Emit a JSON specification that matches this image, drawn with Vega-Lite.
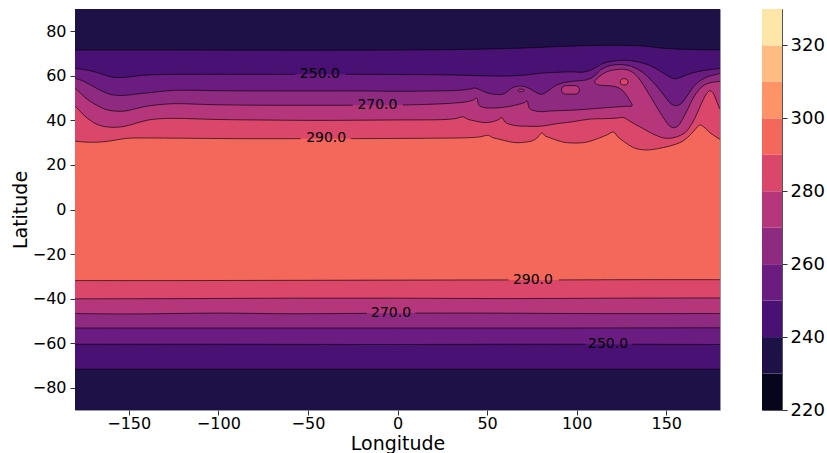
{
"$schema": "https://vega.github.io/schema/vega-lite/v6.json",
"padding": {"left": 10, "top": 8, "right": 4, "bottom": 0},
"config": {
 "font": "DejaVu Sans",
 "view": {"stroke": null},
 "axis": {"labelFont": "DejaVu Sans", "labelFontSize": 16, "labelColor": "#000", "titleFont": "DejaVu Sans", "titleFontSize": 19, "titleFontWeight": "normal", "titleColor": "#000", "tickColor": "#333", "tickSize": 5, "grid": false, "domain": false, "labelPadding": 4}
},
"datasets": {
 "base": [{"x": -180, "x2": 180, "y": -90, "y2": 90, "t": 290}],
 "bands": [
  {"t": 220, "y": 220, "y2": 230}, {"t": 230, "y": 230, "y2": 240}, {"t": 240, "y": 240, "y2": 250},
  {"t": 250, "y": 250, "y2": 260}, {"t": 260, "y": 260, "y2": 270}, {"t": 270, "y": 270, "y2": 280},
  {"t": 280, "y": 280, "y2": 290}, {"t": 290, "y": 290, "y2": 300}, {"t": 300, "y": 300, "y2": 310},
  {"t": 310, "y": 310, "y2": 320}, {"t": 320, "y": 320, "y2": 330}
 ],
 "islands": [
  {"x": 91.5, "x2": 101.5, "y": 51.8, "y2": 55.6, "t": 270},
  {"x": 124.3, "x2": 128.7, "y": 55.9, "y2": 58.7, "t": 280},
  {"x": 67.3, "x2": 70.5, "y": 52.9, "y2": 54.0, "t": 270}
 ],
 "labels": [
  {"x": -43.3, "y": 60.7, "text": "250.0"},
  {"x": -11.2, "y": 46.9, "text": "270.0"},
  {"x": -39.8, "y": 31.9, "text": "290.0"},
  {"x": 75.6, "y": -31.6, "text": "290.0"},
  {"x": -3.6, "y": -46.5, "text": "270.0"},
  {"x": 117.5, "y": -60.5, "text": "250.0"}
 ],
 "contours": [
  {"h":"N","t":230,"s":0,"x":-200,"y":95},{"h":"N","t":230,"s":0,"x":-200,"y":71.6},
  {"h":"N","t":230,"s":1,"x":-180,"y":71.6},{"h":"N","t":230,"s":1,"x":-120,"y":71.6},{"h":"N","t":230,"s":1,"x":-60,"y":71.5},{"h":"N","t":230,"s":1,"x":0,"y":71.6},{"h":"N","t":230,"s":1,"x":40,"y":71.9},{"h":"N","t":230,"s":1,"x":70,"y":72.5},{"h":"N","t":230,"s":1,"x":95,"y":73.3},{"h":"N","t":230,"s":1,"x":115,"y":73.7},{"h":"N","t":230,"s":1,"x":135,"y":73.5},{"h":"N","t":230,"s":1,"x":150,"y":72.3},{"h":"N","t":230,"s":1,"x":165,"y":71.8},{"h":"N","t":230,"s":1,"x":180,"y":71.7},
  {"h":"N","t":230,"s":0,"x":200,"y":71.7},{"h":"N","t":230,"s":0,"x":200,"y":95},

  {"h":"N","t":240,"s":0,"x":-200,"y":95},{"h":"N","t":240,"s":0,"x":-200,"y":63.4},
  {"h":"N","t":240,"s":1,"x":-180,"y":63.4},{"h":"N","t":240,"s":1,"x":-175,"y":62.8},{"h":"N","t":240,"s":1,"x":-169,"y":61.8},{"h":"N","t":240,"s":1,"x":-163,"y":60.2},{"h":"N","t":240,"s":1,"x":-157.7,"y":59.3},{"h":"N","t":240,"s":1,"x":-150,"y":59.5},{"h":"N","t":240,"s":1,"x":-143,"y":60.2},{"h":"N","t":240,"s":1,"x":-130,"y":60.6},{"h":"N","t":240,"s":1,"x":-110,"y":60.7},{"h":"N","t":240,"s":1,"x":-85,"y":60.7},{"h":"N","t":240,"s":1,"x":-57,"y":60.7},
  {"h":"N","t":240,"s":2,"x":-29,"y":60.7},{"h":"N","t":240,"s":2,"x":0,"y":60.6},{"h":"N","t":240,"s":2,"x":30,"y":60.4},{"h":"N","t":240,"s":2,"x":50,"y":60.0},{"h":"N","t":240,"s":2,"x":62,"y":59.9},{"h":"N","t":240,"s":2,"x":72,"y":60.4},{"h":"N","t":240,"s":2,"x":80,"y":61.2},{"h":"N","t":240,"s":2,"x":90,"y":61.6},{"h":"N","t":240,"s":2,"x":98,"y":61.8},{"h":"N","t":240,"s":2,"x":103,"y":61.6},{"h":"N","t":240,"s":2,"x":108,"y":62.6},{"h":"N","t":240,"s":2,"x":112,"y":64.4},{"h":"N","t":240,"s":2,"x":116,"y":65.9},{"h":"N","t":240,"s":2,"x":122,"y":66.8},{"h":"N","t":240,"s":2,"x":128,"y":67.0},{"h":"N","t":240,"s":2,"x":134,"y":66.3},{"h":"N","t":240,"s":2,"x":140,"y":64.9},{"h":"N","t":240,"s":2,"x":145,"y":62.9},{"h":"N","t":240,"s":2,"x":150,"y":60.4},{"h":"N","t":240,"s":2,"x":154,"y":58.8},{"h":"N","t":240,"s":2,"x":157,"y":59.0},{"h":"N","t":240,"s":2,"x":161,"y":60.3},{"h":"N","t":240,"s":2,"x":166,"y":61.6},{"h":"N","t":240,"s":2,"x":172,"y":62.5},{"h":"N","t":240,"s":2,"x":180,"y":63.3},
  {"h":"N","t":240,"s":0,"x":200,"y":63.3},{"h":"N","t":240,"s":0,"x":200,"y":95},

  {"h":"N","t":250,"s":0,"x":-200,"y":95},{"h":"N","t":250,"s":0,"x":-200,"y":58.9},
  {"h":"N","t":250,"s":1,"x":-180,"y":58.9},{"h":"N","t":250,"s":1,"x":-175,"y":57.5},{"h":"N","t":250,"s":1,"x":-170,"y":55.3},{"h":"N","t":250,"s":1,"x":-165,"y":53.2},{"h":"N","t":250,"s":1,"x":-160,"y":51.6},{"h":"N","t":250,"s":1,"x":-153,"y":51.2},{"h":"N","t":250,"s":1,"x":-146,"y":51.8},{"h":"N","t":250,"s":1,"x":-139,"y":52.4},{"h":"N","t":250,"s":1,"x":-124,"y":53.5},{"h":"N","t":250,"s":1,"x":-100,"y":53.3},{"h":"N","t":250,"s":1,"x":-60,"y":53.2},{"h":"N","t":250,"s":1,"x":-20,"y":53.2},{"h":"N","t":250,"s":1,"x":0,"y":53.1},{"h":"N","t":250,"s":1,"x":20,"y":53.2},{"h":"N","t":250,"s":1,"x":34,"y":53.5},{"h":"N","t":250,"s":1,"x":40,"y":54.0},{"h":"N","t":250,"s":1,"x":43.3,"y":54.5},{"h":"N","t":250,"s":1,"x":46.5,"y":53.6},{"h":"N","t":250,"s":1,"x":50,"y":52.4},{"h":"N","t":250,"s":1,"x":54.4,"y":51.7},{"h":"N","t":250,"s":1,"x":59,"y":51.8},{"h":"N","t":250,"s":1,"x":62,"y":53.4},{"h":"N","t":250,"s":1,"x":64.5,"y":54.8},{"h":"N","t":250,"s":1,"x":69.3,"y":55.4},{"h":"N","t":250,"s":1,"x":73,"y":54.6},{"h":"N","t":250,"s":1,"x":77,"y":52.7},{"h":"N","t":250,"s":1,"x":80.5,"y":51.7},{"h":"N","t":250,"s":1,"x":84.2,"y":53.3},{"h":"N","t":250,"s":1,"x":88,"y":55.5},{"h":"N","t":250,"s":1,"x":93,"y":57.0},{"h":"N","t":250,"s":1,"x":100,"y":57.7},{"h":"N","t":250,"s":1,"x":106,"y":58.3},{"h":"N","t":250,"s":1,"x":110,"y":60.0},{"h":"N","t":250,"s":1,"x":113,"y":62.5},{"h":"N","t":250,"s":1,"x":117,"y":64.2},{"h":"N","t":250,"s":1,"x":122,"y":65.0},{"h":"N","t":250,"s":1,"x":128,"y":64.8},{"h":"N","t":250,"s":1,"x":133,"y":63.4},{"h":"N","t":250,"s":1,"x":137,"y":61.5},{"h":"N","t":250,"s":1,"x":141,"y":58.5},{"h":"N","t":250,"s":1,"x":145,"y":55.0},{"h":"N","t":250,"s":1,"x":149,"y":51.0},{"h":"N","t":250,"s":1,"x":152,"y":47.9},{"h":"N","t":250,"s":1,"x":155,"y":46.6},{"h":"N","t":250,"s":1,"x":158,"y":47.3},{"h":"N","t":250,"s":1,"x":161,"y":50.2},{"h":"N","t":250,"s":1,"x":164,"y":53.8},{"h":"N","t":250,"s":1,"x":167,"y":56.6},{"h":"N","t":250,"s":1,"x":172,"y":59.2},{"h":"N","t":250,"s":1,"x":176,"y":60.3},{"h":"N","t":250,"s":1,"x":180,"y":61.0},
  {"h":"N","t":250,"s":0,"x":200,"y":61.0},{"h":"N","t":250,"s":0,"x":200,"y":95},

  {"h":"N","t":260,"s":0,"x":-200,"y":95},{"h":"N","t":260,"s":0,"x":-200,"y":54.4},
  {"h":"N","t":260,"s":1,"x":-180,"y":54.4},{"h":"N","t":260,"s":1,"x":-177,"y":52.3},{"h":"N","t":260,"s":1,"x":-174.4,"y":50.3},{"h":"N","t":260,"s":1,"x":-171,"y":48.3},{"h":"N","t":260,"s":1,"x":-168.8,"y":47.2},{"h":"N","t":260,"s":1,"x":-165,"y":45.6},{"h":"N","t":260,"s":1,"x":-161.4,"y":44.6},{"h":"N","t":260,"s":1,"x":-156,"y":44.1},{"h":"N","t":260,"s":1,"x":-152,"y":44.2},{"h":"N","t":260,"s":1,"x":-146,"y":45.3},{"h":"N","t":260,"s":1,"x":-139,"y":46.5},{"h":"N","t":260,"s":1,"x":-131,"y":47.2},{"h":"N","t":260,"s":1,"x":-124,"y":47.5},{"h":"N","t":260,"s":1,"x":-100,"y":47.0},{"h":"N","t":260,"s":1,"x":-70,"y":46.8},{"h":"N","t":260,"s":1,"x":-45,"y":46.8},{"h":"N","t":260,"s":1,"x":-25,"y":46.8},
  {"h":"N","t":260,"s":2,"x":3,"y":46.9},{"h":"N","t":260,"s":2,"x":17,"y":47.2},{"h":"N","t":260,"s":2,"x":30,"y":47.7},{"h":"N","t":260,"s":2,"x":38,"y":48.3},{"h":"N","t":260,"s":2,"x":42,"y":49.0},{"h":"N","t":260,"s":2,"x":44.2,"y":50.0},{"h":"N","t":260,"s":2,"x":45.4,"y":46.9},{"h":"N","t":260,"s":2,"x":48,"y":45.8},{"h":"N","t":260,"s":2,"x":55,"y":45.6},{"h":"N","t":260,"s":2,"x":62,"y":46.2},{"h":"N","t":260,"s":2,"x":68,"y":47.3},{"h":"N","t":260,"s":2,"x":71,"y":48.0},{"h":"N","t":260,"s":2,"x":72.3,"y":48.8},{"h":"N","t":260,"s":2,"x":73.6,"y":45.4},{"h":"N","t":260,"s":2,"x":76,"y":44.4},{"h":"N","t":260,"s":2,"x":80,"y":43.9},{"h":"N","t":260,"s":2,"x":85,"y":44.2},{"h":"N","t":260,"s":2,"x":91,"y":44.4},{"h":"N","t":260,"s":2,"x":100,"y":44.7},{"h":"N","t":260,"s":2,"x":110,"y":45.3},{"h":"N","t":260,"s":2,"x":120,"y":45.9},{"h":"N","t":260,"s":2,"x":127,"y":46.3},{"h":"N","t":260,"s":2,"x":131,"y":46.6},{"h":"N","t":260,"s":2,"x":129.6,"y":49.0},{"h":"N","t":260,"s":2,"x":127.2,"y":52.0},{"h":"N","t":260,"s":2,"x":124.6,"y":54.1},{"h":"N","t":260,"s":2,"x":121,"y":55.3},{"h":"N","t":260,"s":2,"x":117,"y":55.6},{"h":"N","t":260,"s":2,"x":113,"y":55.8},{"h":"N","t":260,"s":2,"x":110.6,"y":56.5},{"h":"N","t":260,"s":2,"x":110,"y":57.4},{"h":"N","t":260,"s":2,"x":111,"y":58.5},{"h":"N","t":260,"s":2,"x":113.5,"y":60.2},{"h":"N","t":260,"s":2,"x":117,"y":61.9},{"h":"N","t":260,"s":2,"x":122,"y":62.8},{"h":"N","t":260,"s":2,"x":127,"y":62.9},{"h":"N","t":260,"s":2,"x":131,"y":61.7},{"h":"N","t":260,"s":2,"x":134.5,"y":59.0},{"h":"N","t":260,"s":2,"x":137.5,"y":55.6},{"h":"N","t":260,"s":2,"x":140.5,"y":51.6},{"h":"N","t":260,"s":2,"x":143.5,"y":47.6},{"h":"N","t":260,"s":2,"x":146.5,"y":43.6},{"h":"N","t":260,"s":2,"x":149.5,"y":39.9},{"h":"N","t":260,"s":2,"x":152,"y":37.4},{"h":"N","t":260,"s":2,"x":154.2,"y":36.7},{"h":"N","t":260,"s":2,"x":156.5,"y":37.5},{"h":"N","t":260,"s":2,"x":159,"y":40.4},{"h":"N","t":260,"s":2,"x":162,"y":45.0},{"h":"N","t":260,"s":2,"x":165,"y":50.0},{"h":"N","t":260,"s":2,"x":168,"y":53.5},{"h":"N","t":260,"s":2,"x":171,"y":55.8},{"h":"N","t":260,"s":2,"x":175,"y":57.0},{"h":"N","t":260,"s":2,"x":180,"y":57.5},
  {"h":"N","t":260,"s":0,"x":200,"y":57.5},{"h":"N","t":260,"s":0,"x":200,"y":95},

  {"h":"N","t":270,"s":0,"x":-200,"y":95},{"h":"N","t":270,"s":0,"x":-200,"y":46.5},
  {"h":"N","t":270,"s":1,"x":-180,"y":46.5},{"h":"N","t":270,"s":1,"x":-177,"y":44.0},{"h":"N","t":270,"s":1,"x":-174.4,"y":41.8},{"h":"N","t":270,"s":1,"x":-171,"y":39.8},{"h":"N","t":270,"s":1,"x":-168.8,"y":38.6},{"h":"N","t":270,"s":1,"x":-165,"y":37.5},{"h":"N","t":270,"s":1,"x":-161.4,"y":37.0},{"h":"N","t":270,"s":1,"x":-157,"y":36.9},{"h":"N","t":270,"s":1,"x":-152,"y":37.4},{"h":"N","t":270,"s":1,"x":-146,"y":38.7},{"h":"N","t":270,"s":1,"x":-139,"y":40.2},{"h":"N","t":270,"s":1,"x":-131,"y":40.8},{"h":"N","t":270,"s":1,"x":-124,"y":40.9},{"h":"N","t":270,"s":1,"x":-100,"y":40.4},{"h":"N","t":270,"s":1,"x":-80,"y":40.2},{"h":"N","t":270,"s":1,"x":-45,"y":40.0},{"h":"N","t":270,"s":1,"x":-20,"y":40.1},{"h":"N","t":270,"s":1,"x":0,"y":40.2},{"h":"N","t":270,"s":1,"x":26.5,"y":40.4},{"h":"N","t":270,"s":1,"x":33,"y":40.9},{"h":"N","t":270,"s":1,"x":36.5,"y":41.6},{"h":"N","t":270,"s":1,"x":39,"y":40.6},{"h":"N","t":270,"s":1,"x":44,"y":39.6},{"h":"N","t":270,"s":1,"x":48.8,"y":39.0},{"h":"N","t":270,"s":1,"x":53,"y":39.4},{"h":"N","t":270,"s":1,"x":56.3,"y":40.3},{"h":"N","t":270,"s":1,"x":58.2,"y":41.2},{"h":"N","t":270,"s":1,"x":60,"y":39.3},{"h":"N","t":270,"s":1,"x":62,"y":38.4},{"h":"N","t":270,"s":1,"x":67.5,"y":37.5},{"h":"N","t":270,"s":1,"x":72,"y":37.4},{"h":"N","t":270,"s":1,"x":78,"y":37.3},{"h":"N","t":270,"s":1,"x":83,"y":37.7},{"h":"N","t":270,"s":1,"x":88,"y":38.4},{"h":"N","t":270,"s":1,"x":97,"y":39.3},{"h":"N","t":270,"s":1,"x":106.5,"y":40.5},{"h":"N","t":270,"s":1,"x":116,"y":40.8},{"h":"N","t":270,"s":1,"x":122,"y":41.0},{"h":"N","t":270,"s":1,"x":126,"y":41.3},{"h":"N","t":270,"s":1,"x":128.5,"y":40.3},{"h":"N","t":270,"s":1,"x":131,"y":39.0},{"h":"N","t":270,"s":1,"x":136.7,"y":36.5},{"h":"N","t":270,"s":1,"x":143.7,"y":33.5},{"h":"N","t":270,"s":1,"x":149.3,"y":32.0},{"h":"N","t":270,"s":1,"x":154.9,"y":32.4},{"h":"N","t":270,"s":1,"x":160.5,"y":34.5},{"h":"N","t":270,"s":1,"x":163.5,"y":37.5},{"h":"N","t":270,"s":1,"x":166.1,"y":41.2},{"h":"N","t":270,"s":1,"x":168.5,"y":45.5},{"h":"N","t":270,"s":1,"x":170.7,"y":49.4},{"h":"N","t":270,"s":1,"x":172.5,"y":52.0},{"h":"N","t":270,"s":1,"x":174.4,"y":53.3},{"h":"N","t":270,"s":1,"x":176,"y":52.5},{"h":"N","t":270,"s":1,"x":177.2,"y":50.5},{"h":"N","t":270,"s":1,"x":178.5,"y":47.8},{"h":"N","t":270,"s":1,"x":180,"y":45.0},
  {"h":"N","t":270,"s":0,"x":200,"y":45.0},{"h":"N","t":270,"s":0,"x":200,"y":95},

  {"h":"N","t":280,"s":0,"x":-200,"y":95},{"h":"N","t":280,"s":0,"x":-200,"y":30.7},
  {"h":"N","t":280,"s":1,"x":-180,"y":30.7},{"h":"N","t":280,"s":1,"x":-175,"y":30.3},{"h":"N","t":280,"s":1,"x":-168,"y":30.2},{"h":"N","t":280,"s":1,"x":-161,"y":30.7},{"h":"N","t":280,"s":1,"x":-155,"y":31.5},{"h":"N","t":280,"s":1,"x":-150,"y":32.0},{"h":"N","t":280,"s":1,"x":-140,"y":32.1},{"h":"N","t":280,"s":1,"x":-120,"y":32.0},{"h":"N","t":280,"s":1,"x":-90,"y":31.8},{"h":"N","t":280,"s":1,"x":-54,"y":31.8},
  {"h":"N","t":280,"s":2,"x":-26,"y":31.8},{"h":"N","t":280,"s":2,"x":0,"y":31.9},{"h":"N","t":280,"s":2,"x":20,"y":32.0},{"h":"N","t":280,"s":2,"x":38.6,"y":32.2},{"h":"N","t":280,"s":2,"x":46,"y":32.6},{"h":"N","t":280,"s":2,"x":50.7,"y":33.3},{"h":"N","t":280,"s":2,"x":53,"y":32.3},{"h":"N","t":280,"s":2,"x":57.2,"y":31.5},{"h":"N","t":280,"s":2,"x":62,"y":30.5},{"h":"N","t":280,"s":2,"x":66.5,"y":30.0},{"h":"N","t":280,"s":2,"x":71,"y":30.2},{"h":"N","t":280,"s":2,"x":75.8,"y":31.0},{"h":"N","t":280,"s":2,"x":78.5,"y":32.6},{"h":"N","t":280,"s":2,"x":80.5,"y":34.4},{"h":"N","t":280,"s":2,"x":82.5,"y":33.0},{"h":"N","t":280,"s":2,"x":85.1,"y":32.2},{"h":"N","t":280,"s":2,"x":90,"y":30.8},{"h":"N","t":280,"s":2,"x":94.4,"y":30.0},{"h":"N","t":280,"s":2,"x":103.7,"y":30.0},{"h":"N","t":280,"s":2,"x":108,"y":30.8},{"h":"N","t":280,"s":2,"x":113,"y":32.2},{"h":"N","t":280,"s":2,"x":117,"y":33.5},{"h":"N","t":280,"s":2,"x":120.5,"y":34.8},{"h":"N","t":280,"s":2,"x":123,"y":32.6},{"h":"N","t":280,"s":2,"x":126,"y":30.7},{"h":"N","t":280,"s":2,"x":131.6,"y":27.8},{"h":"N","t":280,"s":2,"x":135,"y":27.0},{"h":"N","t":280,"s":2,"x":139.1,"y":26.7},{"h":"N","t":280,"s":2,"x":143,"y":27.0},{"h":"N","t":280,"s":2,"x":148.4,"y":27.8},{"h":"N","t":280,"s":2,"x":155,"y":29.2},{"h":"N","t":280,"s":2,"x":159.5,"y":30.8},{"h":"N","t":280,"s":2,"x":163,"y":33.2},{"h":"N","t":280,"s":2,"x":166,"y":35.8},{"h":"N","t":280,"s":2,"x":168.8,"y":37.9},{"h":"N","t":280,"s":2,"x":171,"y":37.0},{"h":"N","t":280,"s":2,"x":174.4,"y":34.5},{"h":"N","t":280,"s":2,"x":177,"y":33.0},{"h":"N","t":280,"s":2,"x":180,"y":31.5},
  {"h":"N","t":280,"s":0,"x":200,"y":31.5},{"h":"N","t":280,"s":0,"x":200,"y":95},

  {"h":"S","t":280,"s":0,"x":-200,"y":-95},{"h":"S","t":280,"s":0,"x":-200,"y":-31.9},
  {"h":"S","t":280,"s":1,"x":-180,"y":-31.9},{"h":"S","t":280,"s":1,"x":-120,"y":-31.9},{"h":"S","t":280,"s":1,"x":-60,"y":-31.8},{"h":"S","t":280,"s":1,"x":0,"y":-31.7},{"h":"S","t":280,"s":1,"x":62,"y":-31.6},
  {"h":"S","t":280,"s":2,"x":90,"y":-31.6},{"h":"S","t":280,"s":2,"x":140,"y":-31.5},{"h":"S","t":280,"s":2,"x":180,"y":-31.5},
  {"h":"S","t":280,"s":0,"x":200,"y":-31.5},{"h":"S","t":280,"s":0,"x":200,"y":-95},

  {"h":"S","t":270,"s":0,"x":-200,"y":-95},{"h":"S","t":270,"s":0,"x":-200,"y":-40.1},
  {"h":"S","t":270,"s":1,"x":-180,"y":-40.1},{"h":"S","t":270,"s":1,"x":-120,"y":-40.0},{"h":"S","t":270,"s":1,"x":-60,"y":-39.8},{"h":"S","t":270,"s":1,"x":0,"y":-39.8},{"h":"S","t":270,"s":1,"x":60,"y":-40.0},{"h":"S","t":270,"s":1,"x":120,"y":-39.8},{"h":"S","t":270,"s":1,"x":180,"y":-39.7},
  {"h":"S","t":270,"s":0,"x":200,"y":-39.7},{"h":"S","t":270,"s":0,"x":200,"y":-95},

  {"h":"S","t":260,"s":0,"x":-200,"y":-95},{"h":"S","t":260,"s":0,"x":-200,"y":-46.7},
  {"h":"S","t":260,"s":1,"x":-180,"y":-46.7},{"h":"S","t":260,"s":1,"x":-150,"y":-46.9},{"h":"S","t":260,"s":1,"x":-100,"y":-46.5},{"h":"S","t":260,"s":1,"x":-60,"y":-46.8},{"h":"S","t":260,"s":1,"x":-17,"y":-46.6},
  {"h":"S","t":260,"s":2,"x":10,"y":-46.5},{"h":"S","t":260,"s":2,"x":50,"y":-46.5},{"h":"S","t":260,"s":2,"x":100,"y":-46.7},{"h":"S","t":260,"s":2,"x":180,"y":-46.7},
  {"h":"S","t":260,"s":0,"x":200,"y":-46.7},{"h":"S","t":260,"s":0,"x":200,"y":-95},

  {"h":"S","t":250,"s":0,"x":-200,"y":-95},{"h":"S","t":250,"s":0,"x":-200,"y":-53.2},
  {"h":"S","t":250,"s":1,"x":-180,"y":-53.2},{"h":"S","t":250,"s":1,"x":-90,"y":-53.2},{"h":"S","t":250,"s":1,"x":0,"y":-53.2},{"h":"S","t":250,"s":1,"x":90,"y":-53.2},{"h":"S","t":250,"s":1,"x":180,"y":-53.1},
  {"h":"S","t":250,"s":0,"x":200,"y":-53.1},{"h":"S","t":250,"s":0,"x":200,"y":-95},

  {"h":"S","t":240,"s":0,"x":-200,"y":-95},{"h":"S","t":240,"s":0,"x":-200,"y":-60.5},
  {"h":"S","t":240,"s":1,"x":-180,"y":-60.5},{"h":"S","t":240,"s":1,"x":-100,"y":-60.5},{"h":"S","t":240,"s":1,"x":0,"y":-60.6},{"h":"S","t":240,"s":1,"x":60,"y":-60.5},{"h":"S","t":240,"s":1,"x":105,"y":-60.5},
  {"h":"S","t":240,"s":2,"x":131,"y":-60.5},{"h":"S","t":240,"s":2,"x":180,"y":-60.6},
  {"h":"S","t":240,"s":0,"x":200,"y":-60.6},{"h":"S","t":240,"s":0,"x":200,"y":-95},

  {"h":"S","t":230,"s":0,"x":-200,"y":-95},{"h":"S","t":230,"s":0,"x":-200,"y":-71.7},
  {"h":"S","t":230,"s":1,"x":-180,"y":-71.7},{"h":"S","t":230,"s":1,"x":0,"y":-71.7},{"h":"S","t":230,"s":1,"x":180,"y":-71.7},
  {"h":"S","t":230,"s":0,"x":200,"y":-71.7},{"h":"S","t":230,"s":0,"x":200,"y":-95}
 ]
},
"spacing": 40,
"resolve": {"scale": {"color": "shared", "y": "independent", "x": "independent"}},
"hconcat": [
 {
  "width": 645, "height": 401,
  "view": {"stroke": "#999", "strokeWidth": 1},
  "layer": [
   {
    "data": {"name": "base"},
    "mark": {"type": "rect"},
    "encoding": {
     "x": {"field": "x", "type": "quantitative", "scale": {"domain": [-180, 180], "nice": false, "zero": false}, "axis": {"title": "Longitude", "values": [-150, -100, -50, 0, 50, 100, 150], "labelPadding": 0, "titlePadding": 3}},
     "x2": {"field": "x2"},
     "y": {"field": "y", "type": "quantitative", "scale": {"domain": [-90, 90], "nice": false, "zero": false}, "axis": {"title": "Latitude", "values": [-80, -60, -40, -20, 0, 20, 40, 60, 80], "titlePadding": 2}},
     "y2": {"field": "y2"},
     "color": {"field": "t", "type": "ordinal", "legend": null, "scale": {"domain": [220, 230, 240, 250, 260, 270, 280, 290, 300, 310, 320], "range": ["#06051b", "#1e1148", "#481173", "#6a1c81", "#8f2a81", "#b5367a", "#db476a", "#f4685c", "#fe9368", "#febc82", "#fde6a8"]}}
    }
   },
   {"data": {"name": "contours"}, "transform": [{"filter": "datum.t == 280"}], "mark": {"type": "line", "filled": true, "interpolate": "catmull-rom", "clip": true}, "encoding": {"x": {"field": "x", "type": "quantitative"}, "y": {"field": "y", "type": "quantitative"}, "detail": {"field": "h"}, "color": {"field": "t", "type": "ordinal"}, "order": {"value": null}}},
   {"data": {"name": "contours"}, "transform": [{"filter": "datum.t == 270"}], "mark": {"type": "line", "filled": true, "interpolate": "catmull-rom", "clip": true}, "encoding": {"x": {"field": "x", "type": "quantitative"}, "y": {"field": "y", "type": "quantitative"}, "detail": {"field": "h"}, "color": {"field": "t", "type": "ordinal"}, "order": {"value": null}}},
   {"data": {"name": "contours"}, "transform": [{"filter": "datum.t == 260"}], "mark": {"type": "line", "filled": true, "interpolate": "catmull-rom", "clip": true}, "encoding": {"x": {"field": "x", "type": "quantitative"}, "y": {"field": "y", "type": "quantitative"}, "detail": {"field": "h"}, "color": {"field": "t", "type": "ordinal"}, "order": {"value": null}}},
   {"data": {"name": "contours"}, "transform": [{"filter": "datum.t == 250"}], "mark": {"type": "line", "filled": true, "interpolate": "catmull-rom", "clip": true}, "encoding": {"x": {"field": "x", "type": "quantitative"}, "y": {"field": "y", "type": "quantitative"}, "detail": {"field": "h"}, "color": {"field": "t", "type": "ordinal"}, "order": {"value": null}}},
   {"data": {"name": "contours"}, "transform": [{"filter": "datum.t == 240"}], "mark": {"type": "line", "filled": true, "interpolate": "catmull-rom", "clip": true}, "encoding": {"x": {"field": "x", "type": "quantitative"}, "y": {"field": "y", "type": "quantitative"}, "detail": {"field": "h"}, "color": {"field": "t", "type": "ordinal"}, "order": {"value": null}}},
   {"data": {"name": "contours"}, "transform": [{"filter": "datum.t == 230"}], "mark": {"type": "line", "filled": true, "interpolate": "catmull-rom", "clip": true}, "encoding": {"x": {"field": "x", "type": "quantitative"}, "y": {"field": "y", "type": "quantitative"}, "detail": {"field": "h"}, "color": {"field": "t", "type": "ordinal"}, "order": {"value": null}}},
   {"data": {"name": "islands"}, "mark": {"type": "rect", "cornerRadius": 5, "stroke": "#000", "strokeOpacity": 0.7, "strokeWidth": 0.9}, "encoding": {"x": {"field": "x", "type": "quantitative"}, "x2": {"field": "x2"}, "y": {"field": "y", "type": "quantitative"}, "y2": {"field": "y2"}, "color": {"field": "t", "type": "ordinal"}}},
   {"data": {"name": "contours"}, "transform": [{"filter": "datum.s > 0"}], "mark": {"type": "line", "interpolate": "catmull-rom", "clip": true, "color": "#000", "strokeOpacity": 0.7, "strokeWidth": 0.9}, "encoding": {"x": {"field": "x", "type": "quantitative"}, "y": {"field": "y", "type": "quantitative"}, "detail": [{"field": "h"}, {"field": "t"}, {"field": "s"}], "order": {"value": null}}},
   {"data": {"name": "labels"}, "mark": {"type": "text", "fontSize": 14, "color": "#000", "align": "center", "baseline": "middle", "font": "DejaVu Sans"}, "encoding": {"x": {"field": "x", "type": "quantitative"}, "y": {"field": "y", "type": "quantitative"}, "text": {"field": "text"}}}
  ]
 },
 {
  "width": 20, "height": 401,
  "data": {"name": "bands"},
  "view": {"stroke": "#555", "strokeWidth": 1},
  "mark": {"type": "rect"},
  "encoding": {
   "y": {"field": "y", "type": "quantitative", "scale": {"domain": [220, 330], "nice": false, "zero": false}, "axis": {"orient": "right", "title": null, "values": [220, 240, 260, 280, 300, 320], "labelFontSize": 18, "labelPadding": 3}},
   "y2": {"field": "y2"},
   "color": {"field": "t", "type": "ordinal"}
  }
 }
]
}
